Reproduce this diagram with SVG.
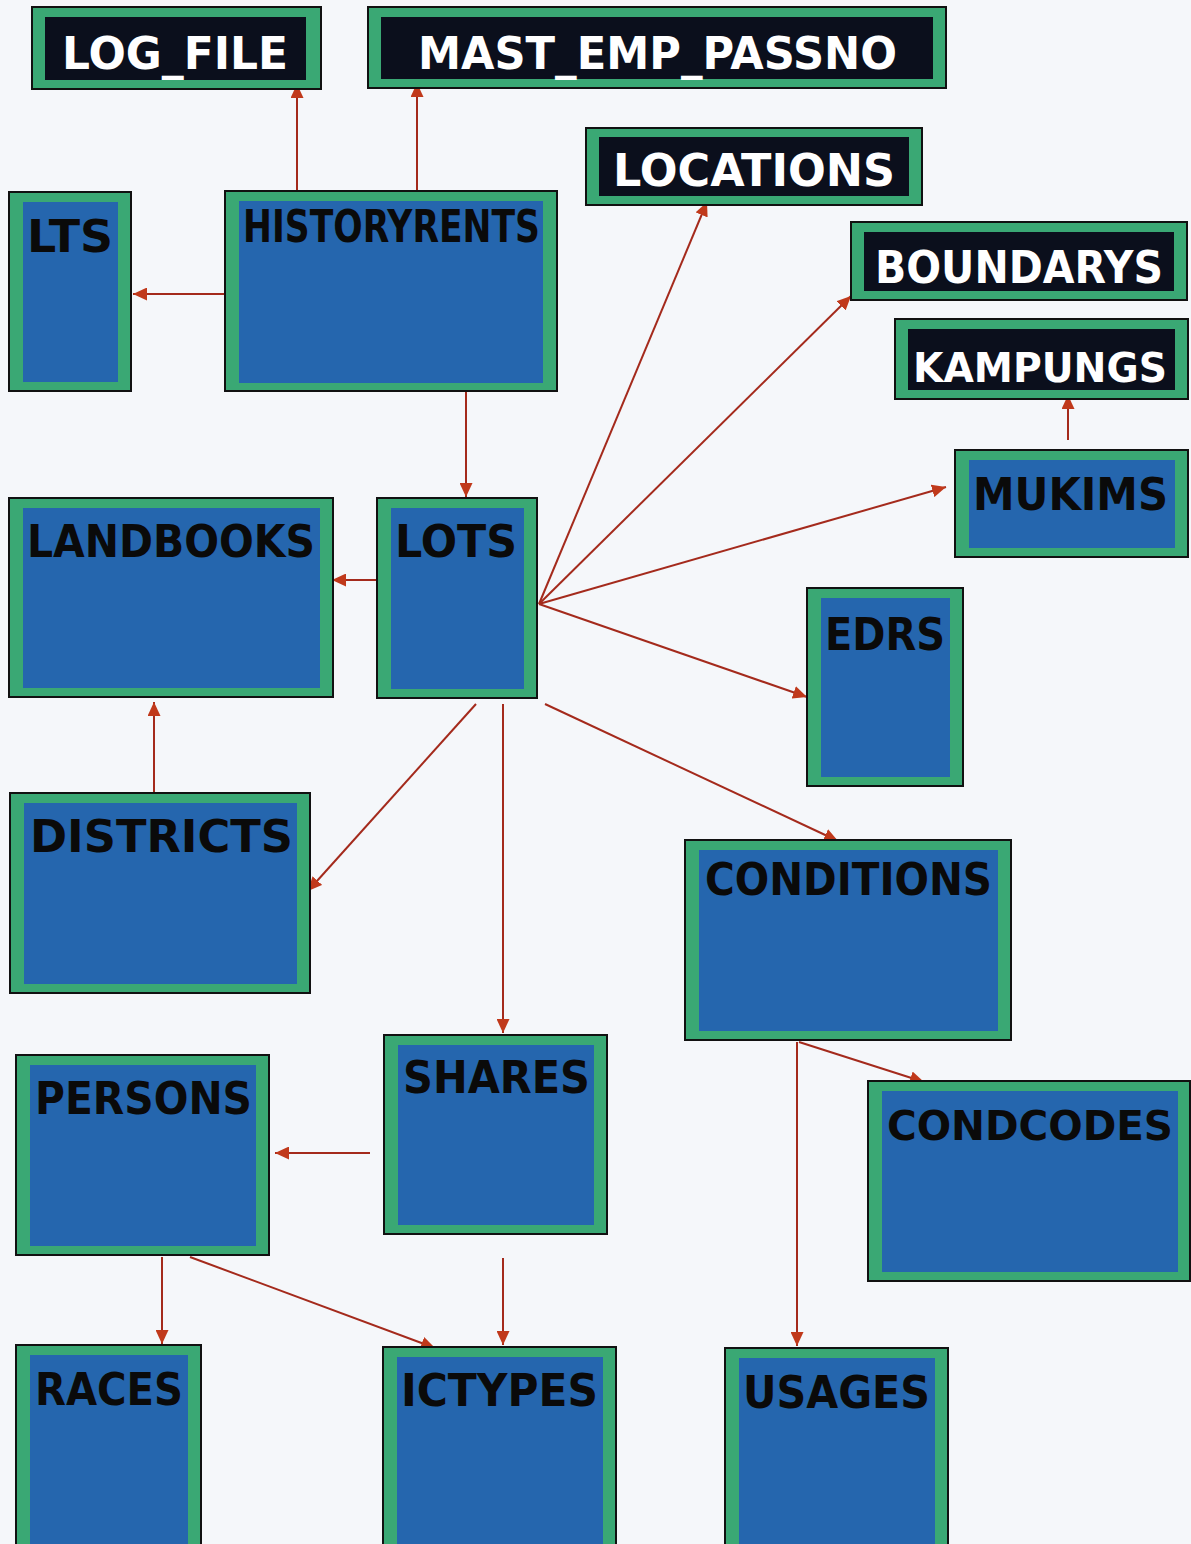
<svg xmlns="http://www.w3.org/2000/svg" width="1191" height="1544" viewBox="0 0 1191 1544">
<defs>
<style>
.o{fill:#3aa874;stroke:#111;stroke-width:2}
.b{fill:#2566ae}
.k{fill:#0b0f1c}
.t{font-family:"DejaVu Sans","Liberation Sans",sans-serif;font-weight:bold;font-size:44px}
.s{font-size:41px}
.tb{fill:#0a0a0a}
.tw{fill:#ffffff}
.c{stroke:#a42a1c;stroke-width:2;fill:none;marker-end:url(#ah)}
</style>
<marker id="ah" markerUnits="userSpaceOnUse" markerWidth="15" markerHeight="13" refX="14" refY="6.5" orient="auto">
<path d="M0,0 L14,6.5 L0,13 Z" fill="#c0391b"/>
</marker>
</defs>
<rect width="1191" height="1544" fill="#f5f7fa"/>
<g id="connectors">
<line class="c" x1="297" y1="191" x2="297" y2="84"/>
<line class="c" x1="417" y1="191" x2="417" y2="83"/>
<line class="c" x1="225" y1="294" x2="133" y2="294"/>
<line class="c" x1="466" y1="392" x2="466" y2="497"/>
<line class="c" x1="377" y1="580" x2="332" y2="580"/>
<line class="c" x1="539" y1="604" x2="707" y2="202"/>
<line class="c" x1="539" y1="604" x2="851" y2="296"/>
<line class="c" x1="539" y1="604" x2="946" y2="487"/>
<line class="c" x1="539" y1="604" x2="807" y2="697"/>
<line class="c" x1="476" y1="704" x2="308" y2="891"/>
<line class="c" x1="503" y1="704" x2="503" y2="1033"/>
<line class="c" x1="545" y1="704" x2="838" y2="841"/>
<line class="c" x1="154" y1="793" x2="154" y2="702"/>
<line class="c" x1="1068" y1="440" x2="1068" y2="395"/>
<line class="c" x1="370" y1="1153" x2="275" y2="1153"/>
<line class="c" x1="799" y1="1042" x2="924" y2="1082"/>
<line class="c" x1="797" y1="1042" x2="797" y2="1346"/>
<line class="c" x1="162" y1="1257" x2="162" y2="1344"/>
<line class="c" x1="190" y1="1257" x2="435" y2="1348"/>
<line class="c" x1="503" y1="1258" x2="503" y2="1345"/>
</g>
<g id="LOG_FILE">
<rect class="o" x="32" y="7" width="289" height="82"/>
<rect class="k" x="45" y="17" width="261" height="63"/>
<text class="t tw" x="62" y="69" textLength="226" lengthAdjust="spacingAndGlyphs">LOG_FILE</text>
</g>
<g id="MAST_EMP_PASSNO">
<rect class="o" x="368" y="7" width="578" height="81"/>
<rect class="k" x="381" y="17" width="552" height="62"/>
<text class="t tw" x="418" y="69" textLength="479" lengthAdjust="spacingAndGlyphs">MAST_EMP_PASSNO</text>
</g>
<g id="LOCATIONS">
<rect class="o" x="586" y="128" width="336" height="77"/>
<rect class="k" x="599" y="137" width="310" height="59"/>
<text class="t tw" x="613" y="186" textLength="282" lengthAdjust="spacingAndGlyphs">LOCATIONS</text>
</g>
<g id="BOUNDARYS">
<rect class="o" x="851" y="222" width="336" height="78"/>
<rect class="k" x="864" y="232" width="310" height="59"/>
<text class="t tw" x="875" y="283" textLength="288" lengthAdjust="spacingAndGlyphs">BOUNDARYS</text>
</g>
<g id="KAMPUNGS">
<rect class="o" x="895" y="319" width="293" height="80"/>
<rect class="k" x="908" y="329" width="267" height="61"/>
<text class="t s tw" x="913" y="382" textLength="254" lengthAdjust="spacingAndGlyphs">KAMPUNGS</text>
</g>
<g id="LTS">
<rect class="o" x="9" y="192" width="122" height="199"/>
<rect class="b" x="23" y="202" width="95" height="180"/>
<text class="t tb" x="27" y="252" textLength="86" lengthAdjust="spacingAndGlyphs">LTS</text>
</g>
<g id="HISTORYRENTS">
<rect class="o" x="225" y="191" width="332" height="200"/>
<rect class="b" x="239" y="201" width="304" height="182"/>
<text class="t tb" x="243" y="242" textLength="297" lengthAdjust="spacingAndGlyphs">HISTORYRENTS</text>
</g>
<g id="MUKIMS">
<rect class="o" x="955" y="450" width="233" height="107"/>
<rect class="b" x="969" y="460" width="206" height="88"/>
<text class="t tb" x="973" y="510" textLength="195" lengthAdjust="spacingAndGlyphs">MUKIMS</text>
</g>
<g id="LANDBOOKS">
<rect class="o" x="9" y="498" width="324" height="199"/>
<rect class="b" x="23" y="508" width="297" height="180"/>
<text class="t tb" x="27" y="557" textLength="288" lengthAdjust="spacingAndGlyphs">LANDBOOKS</text>
</g>
<g id="LOTS">
<rect class="o" x="377" y="498" width="160" height="200"/>
<rect class="b" x="391" y="508" width="133" height="181"/>
<text class="t tb" x="395" y="557" textLength="122" lengthAdjust="spacingAndGlyphs">LOTS</text>
</g>
<g id="EDRS">
<rect class="o" x="807" y="588" width="156" height="198"/>
<rect class="b" x="821" y="598" width="129" height="179"/>
<text class="t tb" x="825" y="650" textLength="120" lengthAdjust="spacingAndGlyphs">EDRS</text>
</g>
<g id="DISTRICTS">
<rect class="o" x="10" y="793" width="300" height="200"/>
<rect class="b" x="24" y="803" width="273" height="181"/>
<text class="t tb" x="30" y="852" textLength="263" lengthAdjust="spacingAndGlyphs">DISTRICTS</text>
</g>
<g id="CONDITIONS">
<rect class="o" x="685" y="840" width="326" height="200"/>
<rect class="b" x="699" y="850" width="299" height="181"/>
<text class="t tb" x="705" y="895" textLength="287" lengthAdjust="spacingAndGlyphs">CONDITIONS</text>
</g>
<g id="SHARES">
<rect class="o" x="384" y="1035" width="223" height="199"/>
<rect class="b" x="398" y="1045" width="196" height="180"/>
<text class="t tb" x="403" y="1093" textLength="187" lengthAdjust="spacingAndGlyphs">SHARES</text>
</g>
<g id="PERSONS">
<rect class="o" x="16" y="1055" width="253" height="200"/>
<rect class="b" x="30" y="1065" width="226" height="181"/>
<text class="t tb" x="35" y="1114" textLength="217" lengthAdjust="spacingAndGlyphs">PERSONS</text>
</g>
<g id="CONDCODES">
<rect class="o" x="868" y="1081" width="322" height="200"/>
<rect class="b" x="882" y="1091" width="296" height="181"/>
<text class="t s tb" x="887" y="1140" textLength="286" lengthAdjust="spacingAndGlyphs">CONDCODES</text>
</g>
<g id="RACES">
<rect class="o" x="16" y="1345" width="185" height="205"/>
<rect class="b" x="30" y="1355" width="158" height="200"/>
<text class="t tb" x="35" y="1405" textLength="148" lengthAdjust="spacingAndGlyphs">RACES</text>
</g>
<g id="ICTYPES">
<rect class="o" x="383" y="1347" width="233" height="203"/>
<rect class="b" x="397" y="1357" width="206" height="200"/>
<text class="t tb" x="401" y="1406" textLength="197" lengthAdjust="spacingAndGlyphs">ICTYPES</text>
</g>
<g id="USAGES">
<rect class="o" x="725" y="1348" width="223" height="202"/>
<rect class="b" x="739" y="1358" width="196" height="200"/>
<text class="t tb" x="743" y="1408" textLength="187" lengthAdjust="spacingAndGlyphs">USAGES</text>
</g>
</svg>
